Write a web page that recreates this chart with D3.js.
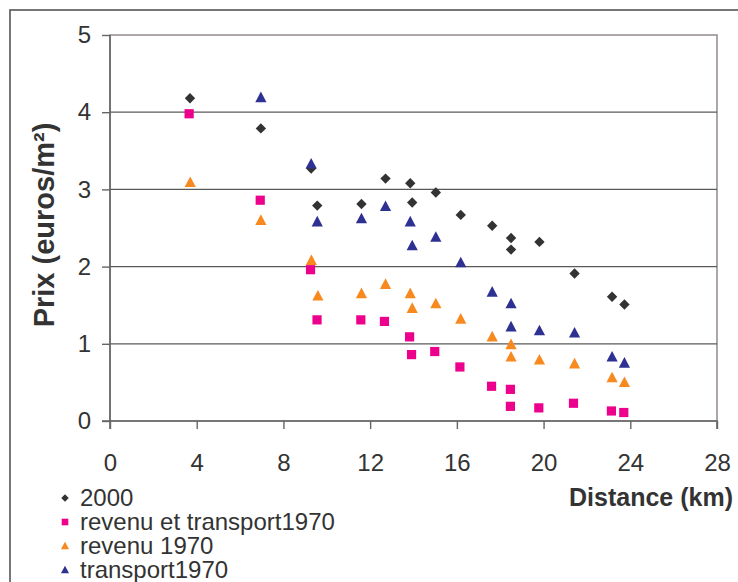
<!DOCTYPE html>
<html>
<head>
<meta charset="utf-8">
<script src="https://cdn.jsdelivr.net/npm/d3@7"></script>
<style>
  html, body { margin: 0; padding: 0; background: #fff; }
  svg { display: block; }
  text { font-family: "Liberation Sans", Arial, sans-serif; fill: #333; }
</style>
</head>
<body>
<svg id="chart" width="738" height="582"></svg>
<script>
// ---- data ----
const seriesNames = ["2000", "revenu et transport1970", "revenu 1970", "transport1970"];
const xTicks = [0, 4, 8, 12, 16, 20, 24, 28];
const yTicks = [0, 1, 2, 3, 4, 5];

const dist2000 = [3.69, 6.96, 9.28, 9.56, 11.6, 12.71, 13.85, 13.94, 15.03, 16.18, 17.63, 18.5, 18.5, 19.81, 21.43, 23.16, 23.73];
const prix2000 = [4.18, 3.79, 3.27, 2.79, 2.81, 3.14, 3.08, 2.83, 2.96, 2.67, 2.53, 2.37, 2.22, 2.32, 1.91, 1.61, 1.51];

const distRevTr = [3.65, 6.93, 9.25, 9.55, 11.57, 12.66, 13.82, 13.91, 14.98, 16.14, 17.6, 18.47, 18.47, 19.78, 21.38, 23.13, 23.7];
const prixRevTr = [3.98, 2.86, 1.96, 1.31, 1.31, 1.29, 1.09, 0.86, 0.90, 0.70, 0.45, 0.41, 0.19, 0.17, 0.23, 0.13, 0.11];

const distRev = [3.7, 6.96, 9.29, 9.59, 11.6, 12.71, 13.85, 13.94, 15.03, 16.18, 17.63, 18.5, 18.5, 19.81, 21.43, 23.16, 23.73];
const prixRev = [3.09, 2.60, 2.08, 1.62, 1.65, 1.77, 1.65, 1.46, 1.52, 1.32, 1.09, 0.99, 0.83, 0.79, 0.74, 0.56, 0.50];

const distTr = [6.96, 9.28, 9.56, 11.6, 12.71, 13.85, 13.94, 15.03, 16.18, 17.63, 18.5, 18.5, 19.81, 21.43, 23.16, 23.73];
const prixTr = [4.19, 3.33, 2.58, 2.62, 2.78, 2.58, 2.27, 2.38, 2.05, 1.67, 1.52, 1.22, 1.17, 1.14, 0.83, 0.75];

// ---- styles ----
const colors = ["#333333", "#ec008c", "#f7891f", "#2e3192"];
const shapes = ["diamond", "square", "triangle", "triangle"];

const series = [
  { name: seriesNames[0], xs: dist2000, ys: prix2000 },
  { name: seriesNames[1], xs: distRevTr, ys: prixRevTr },
  { name: seriesNames[2], xs: distRev, ys: prixRev },
  { name: seriesNames[3], xs: distTr, ys: prixTr }
];

const svg = d3.select("#chart");
const pLeft = 110, pRight = 717, pTop = 35, pBottom = 421;

const x = d3.scaleLinear().domain([0, 28]).range([pLeft, pRight]);
const y = d3.scaleLinear().domain([0, 5]).range([pBottom, pTop]);

// outer frame
svg.append("rect").attr("x", 10).attr("y", 10).attr("width", 1000).attr("height", 1000)
  .attr("fill", "none").attr("stroke", "#555").attr("stroke-width", 1.6);

// plot border
svg.append("rect").attr("x", pLeft).attr("y", pTop).attr("width", pRight - pLeft).attr("height", pBottom - pTop)
  .attr("fill", "none").attr("stroke", "#9a9292").attr("stroke-width", 1.6);

// gridlines
svg.append("g").selectAll("line").data(yTicks.filter(d => d > 0 && d < 5)).join("line")
  .attr("x1", pLeft).attr("x2", pRight)
  .attr("y1", d => y(d)).attr("y2", d => y(d))
  .attr("stroke", "#5a5a5a").attr("stroke-width", 1.3);

// axes
const yAxis = svg.append("g").attr("transform", `translate(${pLeft},0)`)
  .call(d3.axisLeft(y).tickValues(yTicks).tickFormat(d3.format("d")).tickSize(8).tickPadding(11));
const xAxis = svg.append("g").attr("transform", `translate(0,${pBottom})`)
  .call(d3.axisBottom(x).tickValues(xTicks).tickFormat(d3.format("d")).tickSize(8).tickPadding(25));

[yAxis, xAxis].forEach(g => {
  g.select(".domain").attr("stroke", "#666").attr("stroke-width", 1.6);
  g.selectAll(".tick line").attr("stroke", "#666").attr("stroke-width", 1.4);
  g.selectAll(".tick text").attr("fill", "#333").style("font-size", "24px")
    .style("font-family", '"Liberation Sans", Arial, sans-serif');
});
yAxis.select(".domain").attr("d", `M-8,${pBottom}H0V${pTop}`);
xAxis.select(".domain").attr("d", `M${pLeft},8V0H${pRight}V8`);

// symbols
function symbolPath(shape, scale) {
  if (shape === "diamond") {
    const r = 5.2 * scale;
    return `M0,${-r}L${r},0L0,${r}L${-r},0Z`;
  }
  if (shape === "square") {
    const h = 4.6 * scale;
    return `M${-h},${-h}H${h}V${h}H${-h}Z`;
  }
  // triangle
  const w = 5.6 * scale, hUp = 6 * scale, hDn = 4.6 * scale;
  return `M0,${-hUp}L${w},${hDn}L${-w},${hDn}Z`;
}

series.forEach((s, i) => {
  const pts = s.xs.map((d, k) => ({ x: d, y: s.ys[k] }));
  svg.append("g").selectAll("path").data(pts).join("path")
    .attr("transform", d => `translate(${x(d.x)},${y(d.y)})`)
    .attr("d", symbolPath(shapes[i], 1))
    .attr("fill", colors[i]);
});

// axis titles
svg.append("text")
  .attr("transform", "translate(54,225) rotate(-90)")
  .attr("text-anchor", "middle")
  .style("font-size", "29px").style("font-weight", "bold")
  .text("Prix (euros/m²)");

svg.append("text")
  .attr("x", 733).attr("y", 506)
  .attr("text-anchor", "end")
  .style("font-size", "25px").style("font-weight", "bold")
  .text("Distance (km)");

// legend
const legend = svg.append("g");
seriesNames.forEach((name, i) => {
  const by = 506 + i * 24;
  legend.append("path")
    .attr("transform", `translate(65,${by - 8})`)
    .attr("d", symbolPath(shapes[i], 0.72))
    .attr("fill", colors[i]);
  legend.append("text")
    .attr("x", 80).attr("y", by)
    .style("font-size", "24px")
    .text(name);
});
</script>
</body>
</html>
